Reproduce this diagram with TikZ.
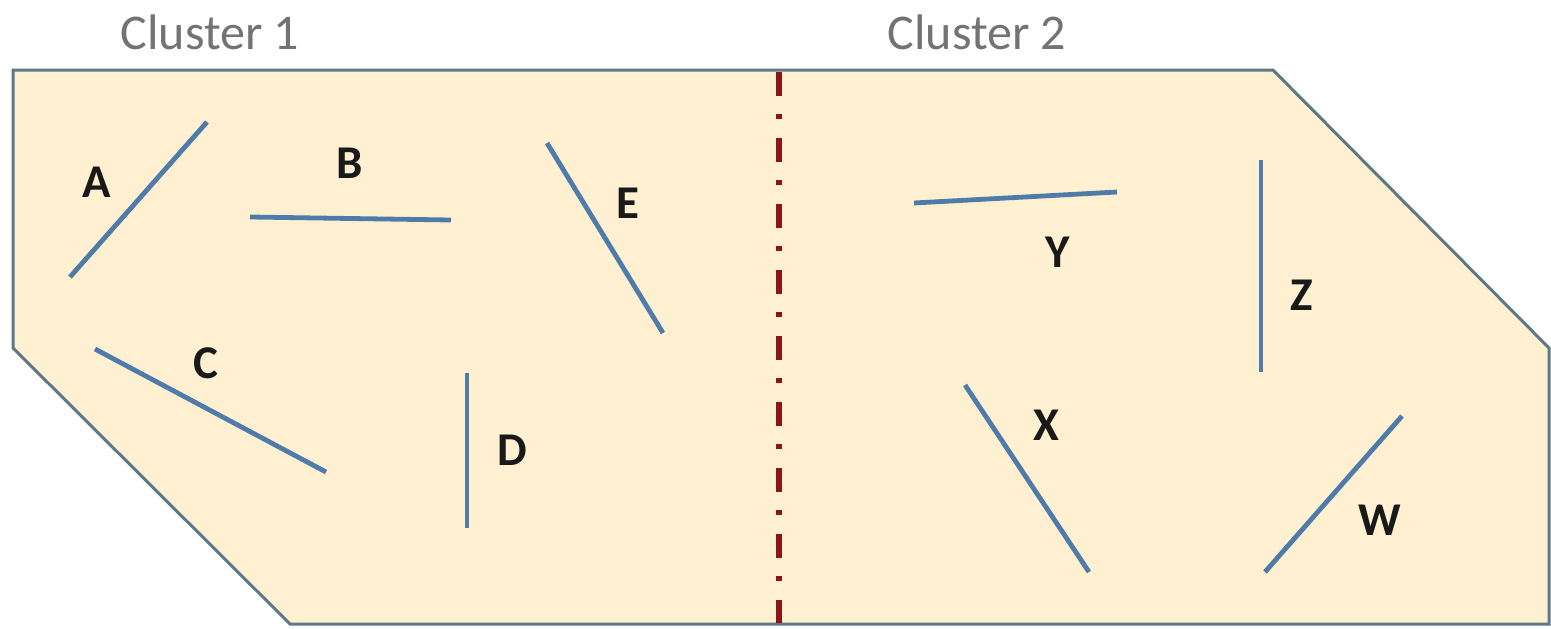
\documentclass[tikz,border=0pt]{standalone}
\usepackage{fontspec}
\setmainfont{Carlito}
\begin{document}
\begin{tikzpicture}[x=1pt,y=-1pt,
  region/.style={fill=fillc,draw=borderc,line width=3pt,line join=miter},
  seg/.style={draw=segc,line width=4.8pt},
  lbl/.style={font=\fontsize{47}{47}\selectfont\bfseries,text=black!90,inner sep=0pt},
  title/.style={font=\fontsize{50}{50}\selectfont,inner sep=0pt},
  divider/.style={draw=divc,line width=6pt,dash pattern=on 24pt off 18pt on 5pt off 19pt}]
\definecolor{fillc}{HTML}{FEF0D0}
\definecolor{borderc}{HTML}{5E7888}
\definecolor{segc}{HTML}{4F7BAA}
\definecolor{divc}{HTML}{8B1414}
\useasboundingbox (0,0) rectangle (1551,629);
\path[region] (13,70) -- (1273,70) -- (1549,348) -- (1549,624) -- (290,624) -- (13,348) -- cycle;
\coordinate (dtop) at (779,72);
\coordinate (dbot) at (779,623);
\draw[divider] (dtop) -- (dbot);
\node[title,text=black!55] (t1) at (210,32) {Cluster 1};
\node[title,text=black!55] (t2) at (977,32) {Cluster 2};
% segments
\coordinate (a1) at (70,277); \coordinate (a2) at (207,122);
\coordinate (b1) at (250,217); \coordinate (b2) at (451,220);
\coordinate (c1) at (95,349); \coordinate (c2) at (326,472);
\coordinate (d1) at (467,373); \coordinate (d2) at (467,528);
\coordinate (e1) at (547,143); \coordinate (e2) at (663,333);
\coordinate (y1) at (914,203); \coordinate (y2) at (1117,192);
\coordinate (z1) at (1261,160); \coordinate (z2) at (1261,372);
\coordinate (x1) at (965,385); \coordinate (x2) at (1089,572);
\coordinate (w1) at (1265,572); \coordinate (w2) at (1402,416);
\foreach \p in {a,b,c,d,e,y,z,x,w} {\draw[seg] (\p1) -- (\p2);}
\node[lbl] (la) at (97,182) {A};
\node[lbl] (lb) at (350,163) {B};
\node[lbl] (lc) at (206,363) {C};
\node[lbl] (ld) at (512,450) {D};
\node[lbl] (le) at (628,203) {E};
\node[lbl] (ly) at (1058,252) {Y};
\node[lbl] (lz) at (1302,295) {Z};
\node[lbl] (lx) at (1046,425) {X};
\node[lbl] (lw) at (1380,520) {W};
\end{tikzpicture}
\end{document}
